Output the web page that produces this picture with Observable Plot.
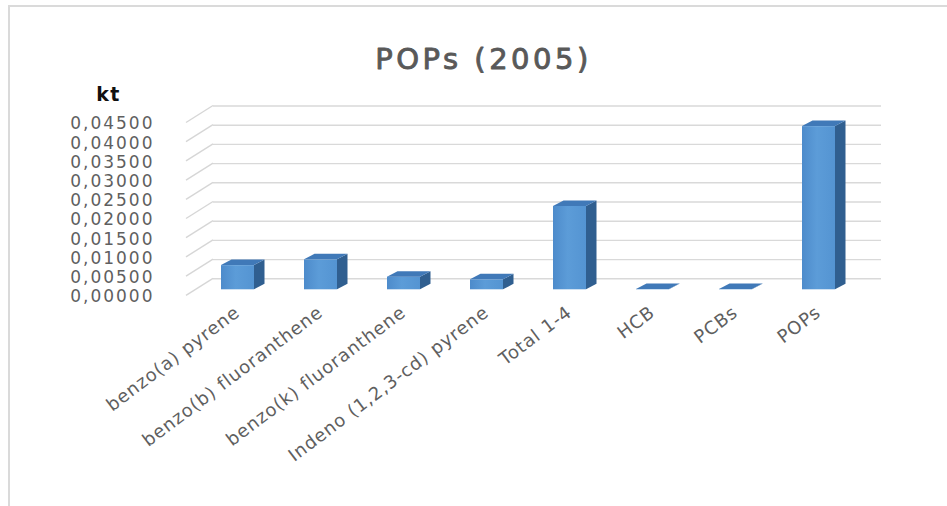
<!DOCTYPE html>
<html>
<head>
<meta charset="utf-8">
<script src="https://cdn.jsdelivr.net/npm/d3@7"></script>
<script src="https://cdn.jsdelivr.net/npm/@observablehq/plot@0.6"></script>
<style>
  html, body { margin: 0; padding: 0; background: #fff; overflow: hidden; }
  #chart { position: relative; width: 947px; height: 506px; }
  #edge { position: absolute; left: 8px; top: 5px; width: 1000px; height: 600px;
          border-left: 2px solid #dadada; border-top: 2px solid #dadada; pointer-events: none; }
</style>
</head>
<body>
<div id="chart"><div id="edge"></div></div>
<script>
// Emissions of persistent organic pollutants, 2005 (kt)
const categories = [
  "benzo(a) pyrene",
  "benzo(b) fluoranthene",
  "benzo(k) fluoranthene",
  "Indeno (1,2,3-cd) pyrene",
  "Total 1-4",
  "HCB",
  "PCBs",
  "POPs"
];
const values = [0.0063, 0.0078, 0.0033, 0.0026, 0.0217, 0.0001, 0.0001, 0.0425];
const yTicks = [0, 0.005, 0.01, 0.015, 0.02, 0.025, 0.03, 0.035, 0.04, 0.045];
const titleText = "POPs (2005)";
const unitText = "kt";

const rows = categories.map((name, i) => ({name, value: values[i]}));

// pseudo-3D offsets (pixels): column depth, back wall and front label plane
const depth = {dx: 10.5, dy: -5.5};
const wall = {dx: 19, dy: -11};
const front = {dx: -8, dy: 6};

const fmt = v => v.toFixed(5).replace(".", ",");
const bandwidthOf = s => typeof s.bandwidth === "function" ? s.bandwidth() : s.bandwidth;

// slanted lines joining the value labels to the back-wall gridlines, plus the face gradient
function connectors(index, scales, vals, dims) {
  const y = scales.y;
  const g = d3.create("svg:g");
  const grad = g.append("defs").append("linearGradient")
    .attr("id", "frontFace").attr("x1", 0).attr("x2", 1).attr("y1", 0).attr("y2", 0);
  grad.append("stop").attr("offset", "0%").attr("stop-color", "#4d8bcb");
  grad.append("stop").attr("offset", "45%").attr("stop-color", "#5c9cd8");
  grad.append("stop").attr("offset", "100%").attr("stop-color", "#5494d2");
  const x0 = dims.marginLeft;
  g.selectAll("line").data(yTicks).join("line")
    .attr("x1", x0 + front.dx).attr("y1", d => y(d) + front.dy)
    .attr("x2", x0 + wall.dx).attr("y2", d => y(d) + wall.dy)
    .attr("stroke", "#d6d6d6").attr("stroke-width", 1.4);
  return g.node();
}

// top and side faces of each column
function faces(index, scales) {
  const x = scales.x, y = scales.y;
  const bw = bandwidthOf(x);
  const g = d3.create("svg:g");
  for (const r of rows) {
    const xa = x(r.name), xb = xa + bw;
    const y0 = y(0), y1 = y(r.value);
    const top = [[xa, y1], [xb, y1], [xb + depth.dx, y1 + depth.dy], [xa + depth.dx, y1 + depth.dy]];
    const side = [[xb, y1], [xb + depth.dx, y1 + depth.dy], [xb + depth.dx, y0 + depth.dy], [xb, y0]];
    g.append("path").attr("d", "M" + side.join("L") + "Z").attr("fill", "#305f90");
    g.append("path").attr("d", "M" + top.join("L") + "Z").attr("fill", "#4079b8");
  }
  return g.node();
}

const W = 947, H = 506;
const svg = Plot.plot({
  width: W,
  height: H,
  marginLeft: 194,
  marginRight: 85,
  marginTop: 116.5,
  marginBottom: 216.7,
  x: {type: "band", domain: categories, paddingInner: 0.6, paddingOuter: 0.3, axis: null},
  y: {type: "linear", domain: [0, 0.045], axis: null},
  marks: [
    Plot.ruleY(yTicks, {dx: wall.dx, dy: wall.dy, stroke: "#d9d9d9", strokeWidth: 1.4}),
    connectors,
    Plot.barY(rows, {x: "name", y: "value", fill: "url(#frontFace)"}),
    faces,
    Plot.text(yTicks, {
      y: d => d, text: fmt, frameAnchor: "left", textAnchor: "end",
      dx: -40, dy: front.dy + 1, fontSize: 17, fontFamily: "DejaVu Sans", fill: "#5f5f5f"
    }),
    Plot.text(categories, {
      x: d => d, text: d => d, frameAnchor: "bottom", rotate: -37, textAnchor: "end",
      dx: 3, dy: 25, fontSize: 18, fontFamily: "DejaVu Sans", fill: "#5f5f5f"
    }),
    Plot.text([titleText], {
      text: d => d, frameAnchor: "top", dx: -45, dy: -69,
      fontSize: 29, fontFamily: "DejaVu Sans", fill: "#595959",
      stroke: "#595959", strokeWidth: 0.9
    }),
    Plot.text([unitText], {
      text: d => d, frameAnchor: "top-left", textAnchor: "middle", dx: -86, dy: -29.5,
      fontSize: 19, fontWeight: "bold", fontFamily: "DejaVu Sans", fill: "#111"
    })
  ]
});

// wider letter spacing per text group
const tickStrings = new Set(yTicks.map(fmt));
const catStrings = new Set(categories);
d3.select(svg).selectAll("text").each(function() {
  const t = this.textContent;
  let ls = null;
  if (tickStrings.has(t)) ls = "2px";
  else if (catStrings.has(t)) ls = "0.9px";
  else if (t === titleText) ls = "3.5px";
  else if (t === unitText) ls = "1.5px";
  if (ls) this.style.letterSpacing = ls;
});
svg.style.position = "absolute";
svg.style.left = "0px";
svg.style.top = "0px";
svg.style.background = "transparent";
document.getElementById("chart").prepend(svg);
</script>
</body>
</html>
